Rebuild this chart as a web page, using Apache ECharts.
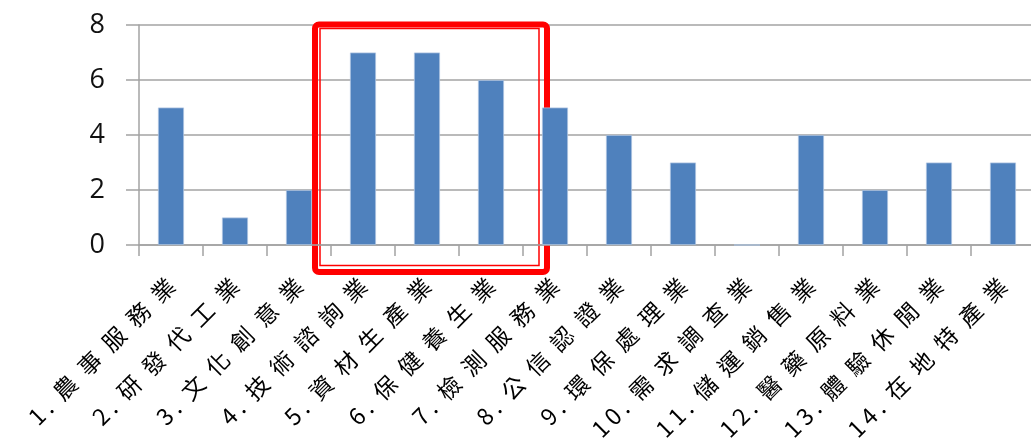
<!DOCTYPE html>
<html>
<head>
<meta charset="utf-8">
<script src="https://cdn.jsdelivr.net/npm/echarts@6/dist/echarts.min.js"></script>
<style>
    html, body { margin: 0; padding: 0; background: #fff; }
    #chart { width: 1031px; height: 447px; }
</style>
</head>
<body>
<div id="chart"></div>
<script type="text/javascript">
    // data
    var categories = ['1.農事服務業', '2.研發代工業', '3.文化創意業', '4.技術諮詢業', '5.資材生產業',
        '6.保健養生業', '7.檢測服務業', '8.公信認證業', '9.環保處理業', '10.需求調查業',
        '11.儲運銷售業', '12.醫藥原料業', '13.體驗休閒業', '14.在地特產業'];
    var counts = [5, 1, 2, 7, 7, 6, 5, 4, 3, 0, 4, 2, 3, 3];
    var yTicks = [0, 2, 4, 6, 8];
    // highlighted categories (first / last index)
    var highlight = [3, 5];

    var myChart = echarts.init(document.getElementById('chart'));
    var gridColor = '#a3a3a3';

    // the original labels are loosely spaced: wide gaps between CJK glyphs, thin ones around digits
    function spaced(v) {
        var chars = v.split('');
        var out = chars[0];
        for (var i = 1; i < chars.length; i++) {
            var a = chars[i - 1], b = chars[i];
            var wide = a.charCodeAt(0) > 255 || a === '.';
            out += (wide ? '\u2002' : '\u2009') + b;
        }
        return out;
    }

    var option = {
        animation: false,
        grid: { left: 139, top: 25, bottom: 202, width: 896, outerBoundsMode: 'none' },
        xAxis: {
            type: 'category',
            data: categories,
            axisLine: { lineStyle: { color: gridColor, width: 1.5 } },
            axisTick: { show: true, length: 11, lineStyle: { color: gridColor, width: 1.5 } },
            axisLabel: {
                rotate: 45,
                interval: 0,
                margin: 37,
                color: '#000',
                fontSize: 23,
                fontFamily: '"Noto Sans CJK TC"',
                formatter: spaced
            }
        },
        yAxis: {
            type: 'value',
            min: yTicks[0],
            max: yTicks[yTicks.length - 1],
            interval: 2,
            axisLine: { show: true, lineStyle: { color: gridColor, width: 1.5 } },
            axisTick: { show: true, length: 13, lineStyle: { color: gridColor, width: 1.5 } },
            splitLine: { lineStyle: { color: gridColor, width: 1.5 } },
            axisLabel: {
                margin: 34,
                color: '#111',
                fontSize: 27,
                fontFamily: '"Open Sans"'
            }
        },
        series: [
            {
                type: 'bar',
                data: counts,
                barWidth: 26,
                itemStyle: { color: '#4f81bd', borderColor: '#a9c1e0', borderWidth: 0.8 }
            }
        ]
    };
    myChart.setOption(option);

    // red double frame around the highlighted categories
    function drawFrame() {
        var x0 = myChart.convertToPixel({ xAxisIndex: 0 }, highlight[0]);
        var x1 = myChart.convertToPixel({ xAxisIndex: 0 }, highlight[1]);
        var yTop = myChart.convertToPixel({ yAxisIndex: 0 }, yTicks[yTicks.length - 1]);
        var yBottom = myChart.convertToPixel({ yAxisIndex: 0 }, yTicks[0]);
        myChart.setOption({
            graphic: [
                {
                    type: 'rect',
                    shape: { x: x0 - 48, y: yTop - 0.5, width: x1 - x0 + 104, height: yBottom - yTop + 27.5, r: 4 },
                    style: { fill: 'none', stroke: '#ff0000', lineWidth: 6 }
                },
                {
                    type: 'rect',
                    shape: { x: x0 - 43, y: yTop + 3.5, width: x1 - x0 + 91, height: yBottom - yTop + 17 },
                    style: { fill: 'none', stroke: '#ff0000', lineWidth: 1.5 }
                }
            ]
        });
    }
    drawFrame();
</script>
</body>
</html>
